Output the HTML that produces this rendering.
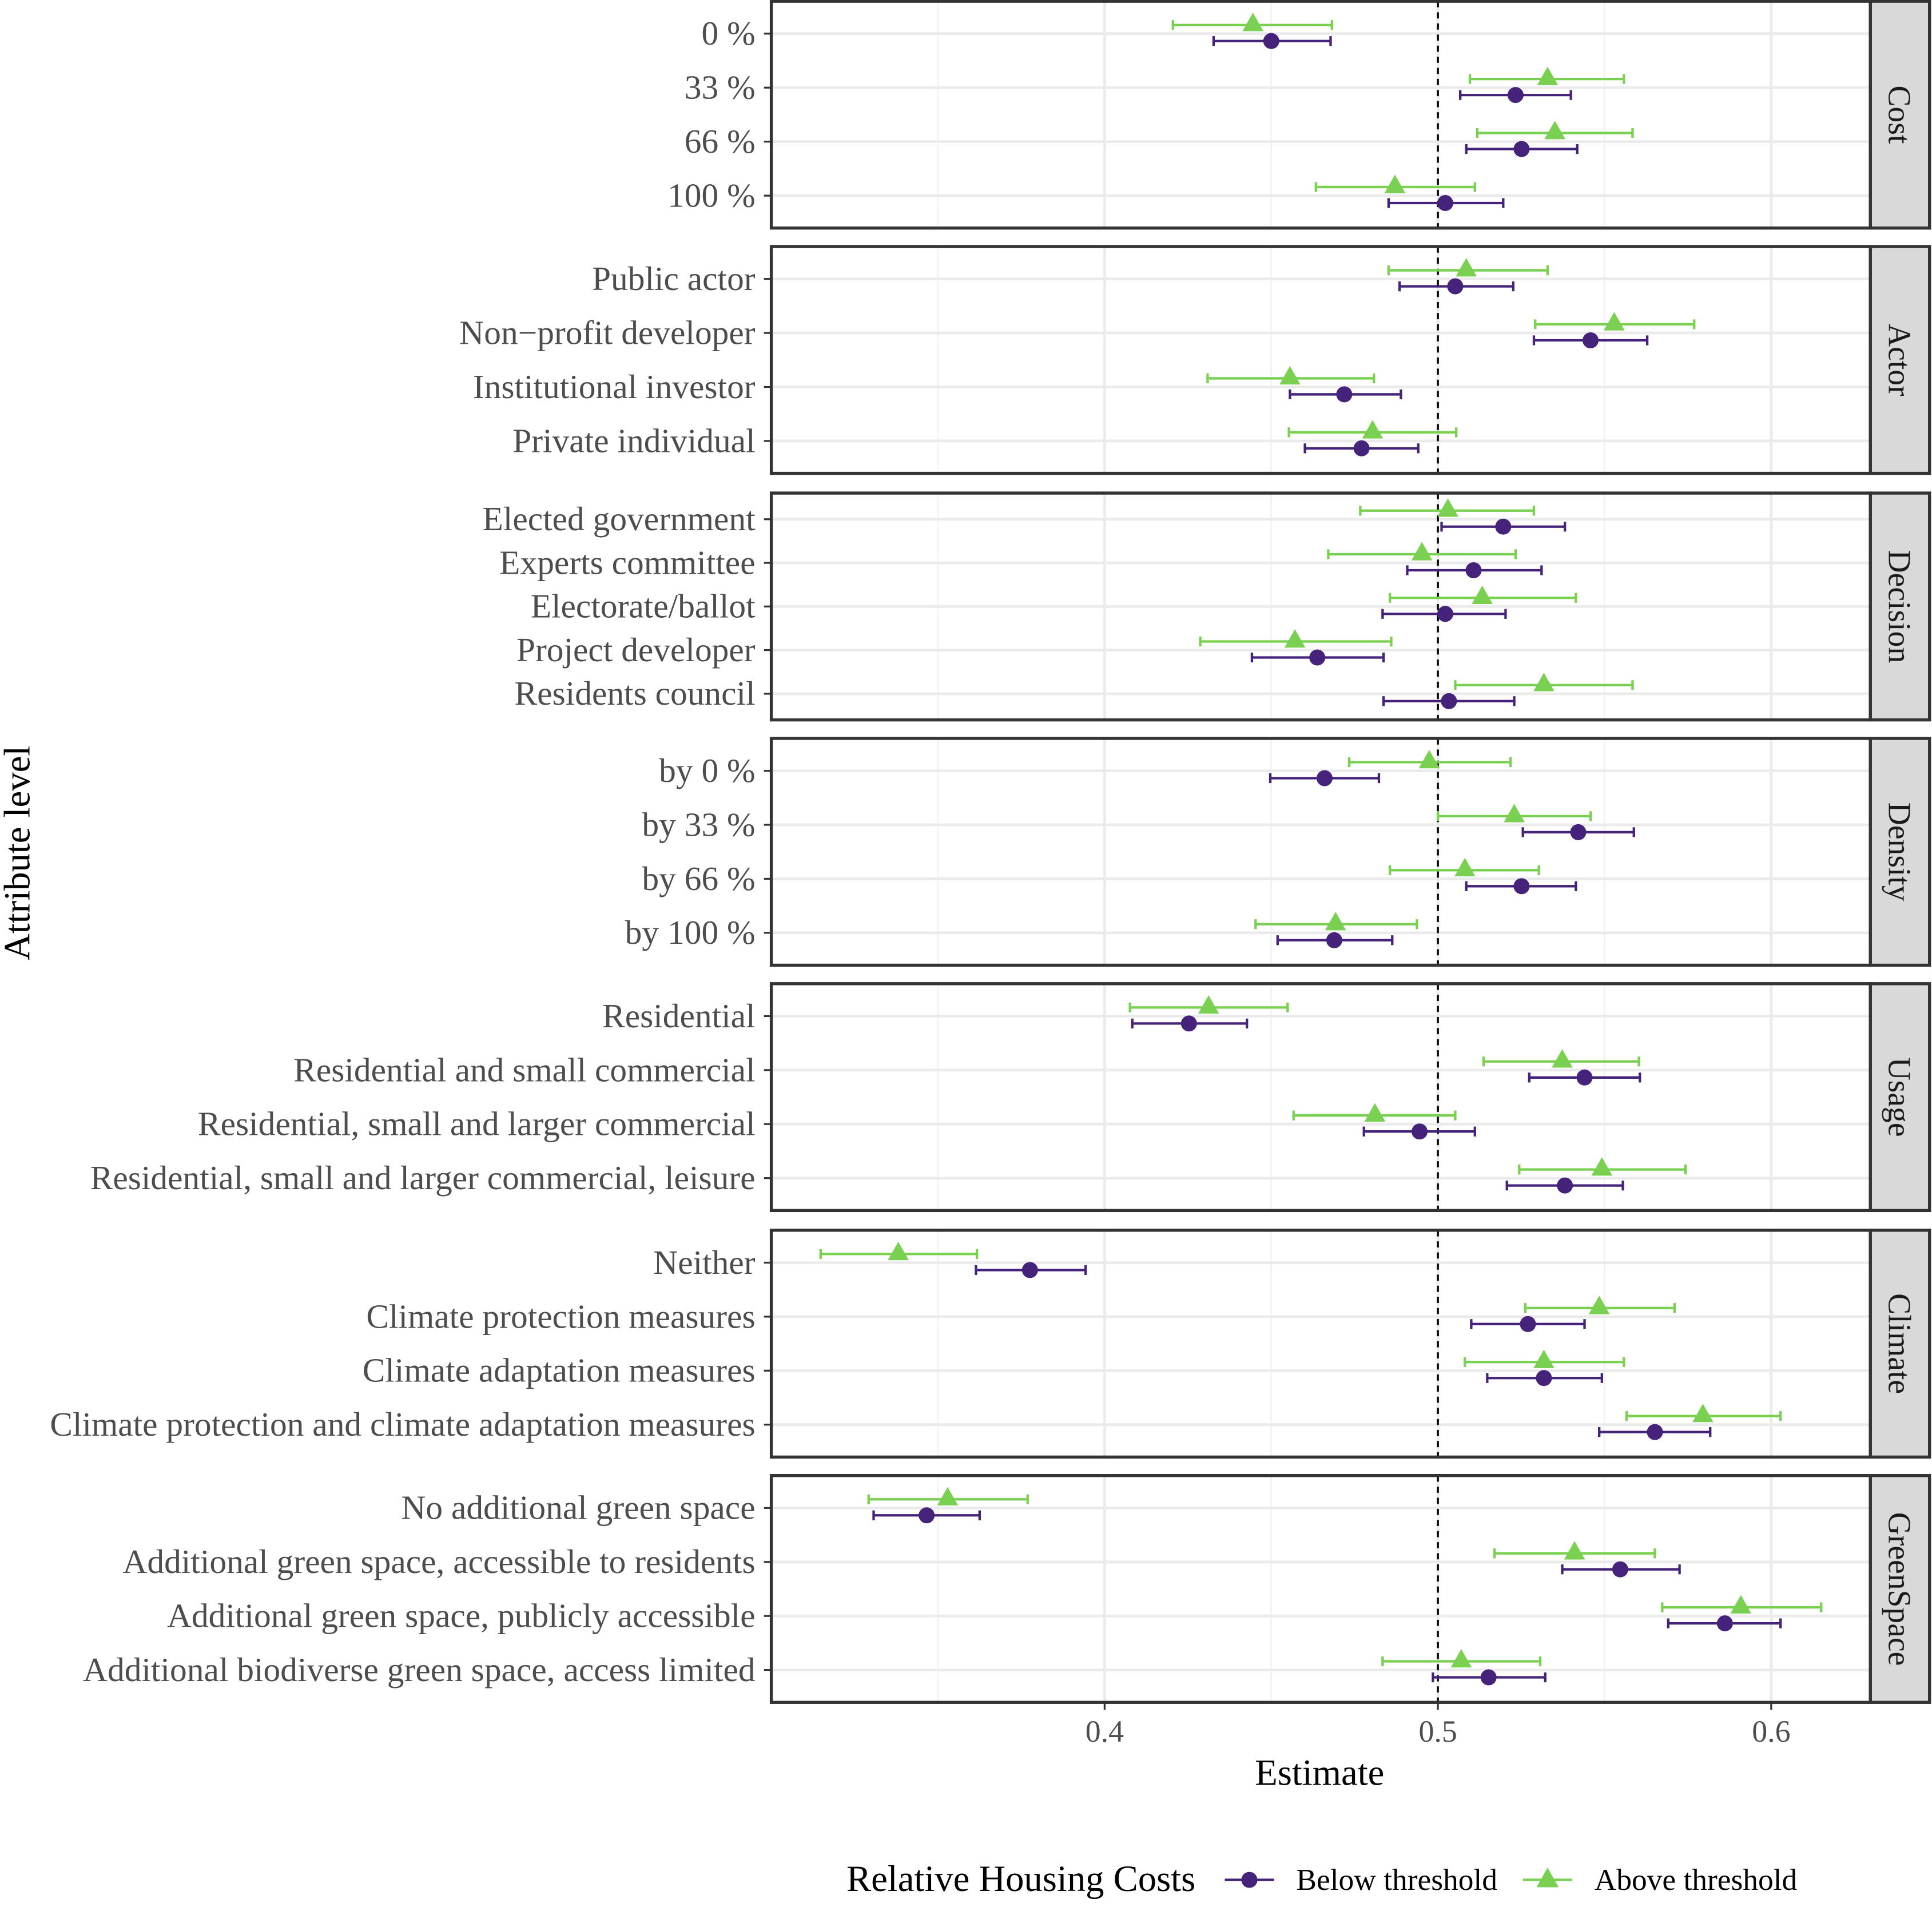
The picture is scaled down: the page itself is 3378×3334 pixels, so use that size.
<!DOCTYPE html>
<html><head><meta charset="utf-8"><style>
html,body{margin:0;padding:0;background:#fff;}
svg{display:block;font-family:"Liberation Serif",serif;}
</style></head><body>
<svg id="chart" width="3378" height="3334" viewBox="0 0 1568 1547" preserveAspectRatio="none" xmlns="http://www.w3.org/2000/svg">
<text x="0" y="0" transform="translate(24,692) rotate(-90)" text-anchor="middle" font-size="30" fill="#000">Attribute level</text>
<text x="1071" y="1448" text-anchor="middle" font-size="30" fill="#000">Estimate</text>
<g>
<text x="687" y="1534" font-size="30" fill="#000">Relative Housing Costs</text>
<g>
<line x1="994" y1="1525" x2="1034" y2="1525" stroke="#45237A" stroke-width="2"/>
<circle cx="1014" cy="1525" r="6.5" fill="#45237A"/>
<text x="1052" y="1533" font-size="24.8" fill="#000">Below threshold</text></g>
<g>
<line x1="1236" y1="1525" x2="1276" y2="1525" stroke="#7AD151" stroke-width="2"/>
<polygon points="1256,1515 1265,1531 1247,1531" fill="#7AD151"/>
<text x="1294" y="1533" font-size="24.8" fill="#000">Above threshold</text></g>
</g>
</svg>
<script>
const panelNames=["Cost","Actor","Decision","Density","Usage","Climate","GreenSpace"];
const levels=[
["0 %","33 %","66 %","100 %"],
["Public actor","Non\u2212profit developer","Institutional investor","Private individual"],
["Elected government","Experts committee","Electorate/ballot","Project developer","Residents council"],
["by 0 %","by 33 %","by 66 %","by 100 %"],
["Residential","Residential and small commercial","Residential, small and larger commercial","Residential, small and larger commercial, leisure"],
["Neither","Climate protection measures","Climate adaptation measures","Climate protection and climate adaptation measures"],
["No additional green space","Additional green space, accessible to residents","Additional green space, publicly accessible","Additional biodiverse green space, access limited"]];
const belowEst=[[0.450,0.5233,0.5251,0.5022],[0.5052,0.5458,0.4719,0.4771],[0.5196,0.5107,0.5022,0.4638,0.5033],[0.4660,0.5421,0.5251,0.4689],[0.4253,0.5440,0.4945,0.5381],[0.3776,0.5270,0.5318,0.5651],[0.3466,0.5547,0.5861,0.5152]];
const belowLo=[[0.4327,0.5067,0.5085,0.4852],[0.4885,0.5288,0.4556,0.4601],[0.5011,0.4908,0.4834,0.4442,0.4837],[0.4497,0.5255,0.5085,0.4519],[0.4083,0.5274,0.4778,0.5207],[0.3614,0.5100,0.5148,0.5484],[0.3307,0.5373,0.5691,0.4985]];
const belowHi=[[0.4678,0.5399,0.5418,0.5196],[0.5226,0.5628,0.4889,0.4941],[0.5381,0.5311,0.5203,0.4837,0.5229],[0.4823,0.5588,0.5414,0.4863],[0.4427,0.5606,0.5111,0.5555],[0.3943,0.5440,0.5492,0.5817],[0.3625,0.5725,0.6028,0.5322]];
const aboveEst=[[0.4445,0.5329,0.5351,0.4871],[0.5085,0.5529,0.4556,0.4804],[0.5030,0.4952,0.5133,0.4571,0.5318],[0.4974,0.5229,0.5081,0.4693],[0.4312,0.5373,0.4811,0.5492],[0.3381,0.5484,0.5318,0.5795],[0.3529,0.5410,0.5909,0.5070]];
const aboveLo=[[0.4205,0.5096,0.5118,0.4634],[0.4852,0.5292,0.4309,0.4553],[0.4767,0.4671,0.4856,0.4287,0.5052],[0.4734,0.5000,0.4856,0.4453],[0.4076,0.5137,0.4567,0.5244],[0.3148,0.5262,0.5081,0.5566],[0.3292,0.5170,0.5673,0.4834]];
const aboveHi=[[0.4682,0.5558,0.5584,0.5111],[0.5329,0.5769,0.4808,0.5055],[0.5288,0.5233,0.5414,0.4860,0.5584],[0.5218,0.5458,0.5303,0.4937],[0.4549,0.5603,0.5052,0.5743],[0.3617,0.5710,0.5558,0.6028],[0.3769,0.5651,0.6150,0.5307]];
const xTicks=[0.4,0.5,0.6];
const xMinor=[0.35,0.45,0.55];

const NS="http://www.w3.org/2000/svg";
const svg=document.getElementById("chart");
const X0=626,X1=1518;
const xs=v=>1167+(v-0.5)*2705;
const panelTop=[1,200,400,599,798,998,1197];
const PH=184;
const PUR="#45237A",GRN="#7AD151";
function el(t,a,p){const e=document.createElementNS(NS,t);for(const k in a)e.setAttribute(k,a[k]);(p||svg).appendChild(e);return e;}
panelNames.forEach((name,pi)=>{
  const g=el("g",{});
  
  
  const top=panelTop[pi],n=levels[pi].length;
  const unit=PH/(n-1+1.2);
  const ys=i=>top+(0.6+i)*unit;
  el("rect",{x:X0,y:top,width:X1-X0,height:PH,fill:"#fff"},g);
  xMinor.forEach(v=>el("line",{x1:xs(v),x2:xs(v),y1:top,y2:top+PH,stroke:"#F2F2F2","stroke-width":1.2},g));
  xTicks.forEach(v=>el("line",{x1:xs(v),x2:xs(v),y1:top,y2:top+PH,stroke:"#EBEBEB","stroke-width":2.2},g));
  levels[pi].forEach((lab,i)=>{
    const y=ys(i);
    el("line",{x1:X0,x2:X1,y1:y,y2:y,stroke:"#EBEBEB","stroke-width":2.2},g);
    el("line",{x1:X0-6,x2:X0,y1:y,y2:y,stroke:"#333","stroke-width":1.5},g);
    const t=el("text",{x:X0-13,y:y+9,"text-anchor":"end","font-size":27.6,fill:"#4D4D4D"},g);
    t.textContent=lab;
    
    
  });
  el("line",{x1:xs(0.5),x2:xs(0.5),y1:top,y2:top+PH,stroke:"#000","stroke-width":1.6,"stroke-dasharray":"5,4"},g);
  levels[pi].forEach((lab,i)=>{
    const yb=ys(i)+6,ya=ys(i)-7;
    const ga=el("g",{},g);
    
    
    const lo=xs(aboveLo[pi][i]),hi=xs(aboveHi[pi][i]),cx=xs(aboveEst[pi][i]);
    el("line",{x1:lo,x2:hi,y1:ya,y2:ya,stroke:GRN,"stroke-width":2},ga);
    el("line",{x1:lo,x2:lo,y1:ya-4,y2:ya+4,stroke:GRN,"stroke-width":2},ga);
    el("line",{x1:hi,x2:hi,y1:ya-4,y2:ya+4,stroke:GRN,"stroke-width":2},ga);
    el("polygon",{points:`${cx},${ya-10} ${cx+8.5},${ya+5} ${cx-8.5},${ya+5}`,fill:GRN},ga);
    const gb=el("g",{},g);
    
    
    const lo2=xs(belowLo[pi][i]),hi2=xs(belowHi[pi][i]),cx2=xs(belowEst[pi][i]);
    el("line",{x1:lo2,x2:hi2,y1:yb,y2:yb,stroke:PUR,"stroke-width":2},gb);
    el("line",{x1:lo2,x2:lo2,y1:yb-4,y2:yb+4,stroke:PUR,"stroke-width":2},gb);
    el("line",{x1:hi2,x2:hi2,y1:yb-4,y2:yb+4,stroke:PUR,"stroke-width":2},gb);
    el("circle",{cx:cx2,cy:yb,r:6.5,fill:PUR},gb);
  });
  el("rect",{x:X0,y:top,width:X1-X0,height:PH,fill:"none",stroke:"#333","stroke-width":2.5},g);
  const s=el("rect",{x:X1,y:top,width:48,height:PH,fill:"#D9D9D9",stroke:"#333","stroke-width":2.5},g);
  
  
  const st=el("text",{x:0,y:0,transform:`translate(${X1+15},${top+PH/2}) rotate(90)`,"text-anchor":"middle","font-size":25.8,fill:"#1A1A1A"},g);
  st.textContent=name;
  
  
});
const bottom=panelTop[6]+PH;
xTicks.forEach(v=>{
  el("line",{x1:xs(v),x2:xs(v),y1:bottom,y2:bottom+6,stroke:"#333","stroke-width":1.5});
  const t=el("text",{x:xs(v),y:bottom+32,"text-anchor":"middle","font-size":25,fill:"#4D4D4D"});
  t.textContent=String(v);
  
  
});
</script>
</body></html>
